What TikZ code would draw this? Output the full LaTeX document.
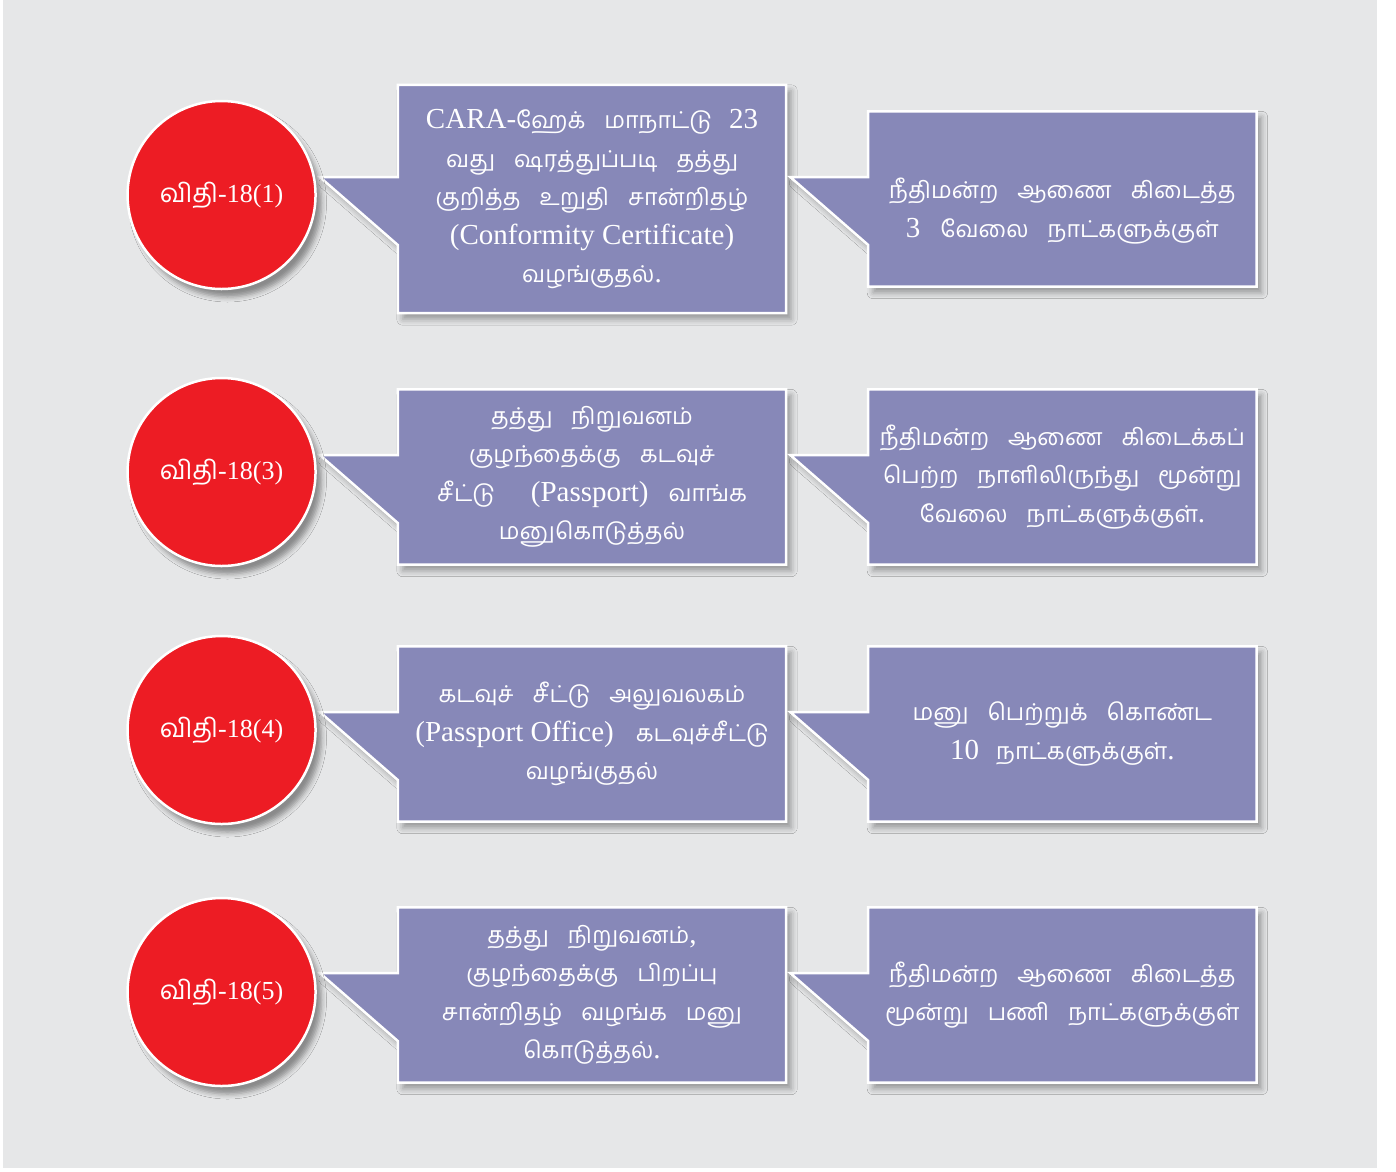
\documentclass[tikz,border=0pt]{standalone}
\usepackage{fontspec}
\setmainfont{Liberation Serif}
\newfontfamily\tamfont[Script=Tamil,Scale=0.8]{Hind Madurai}
\newfontfamily\tamround[Script=Tamil]{Hind Madurai}
\newcommand{\tam}{\tamfont\spaceskip=19pt plus 2pt\relax}
\usetikzlibrary{
    positioning,
    backgrounds,
    calc,
    shadows.blur
}
\definecolor{pagegrey}{HTML}{E6E7E8}
\definecolor{boxblue}{HTML}{8788B8}
\definecolor{rulered}{HTML}{ED1C24}

\begin{document}
\begin{tikzpicture}[
    x=1pt, y=-1pt,
    rulenode/.style = {circle, fill=rulered, draw=white, line width=2.5pt,
                       minimum size=188pt, inner sep=0pt, text=white,
                       font=\fontsize{26}{30}\selectfont,
                       blur shadow={shadow xshift=6pt, shadow yshift=-8pt,
                                    shadow blur radius=5pt, shadow opacity=40}},
    textbox/.style = {rectangle, minimum width=388pt, minimum height=175pt,
                      inner sep=0pt, align=center, text=white,
                      font=\fontsize{29}{38.5}\selectfont},
    calloutshape/.style = {fill=boxblue, draw=white, line width=2.5pt,
                           blur shadow={shadow xshift=5pt, shadow yshift=-6pt,
                                        shadow blur radius=6pt, shadow opacity=35}}
]
    \useasboundingbox (0,0) rectangle (1396,1171);

    % what has to be done
    \node[textbox, minimum height=228pt] (A1) at (592,199)
        {CARA-{\tam ஹேக் மாநாட்டு}\hspace{17pt}23\\ {\tam வது ஷரத்துப்படி தத்து}\\
         {\tam குறித்த உறுதி சான்றிதழ்}\\ (Conformity Certificate)\\ {\tam வழங்குதல்}.};
    \node[textbox] (A2) at (592,477)
        {{\tam தத்து நிறுவனம்}\\ {\tam குழந்தைக்கு கடவுச்}\\
         {\tam சீட்டு}\hspace{36pt}(Passport)\hspace{20pt}{\tam வாங்க}\\ {\tam மனுகொடுத்தல்}};
    \node[textbox] (A3) at (592,734)
        {{\tam கடவுச் சீட்டு அலுவலகம்}\\ (Passport Office)\hspace{22pt}{\tam கடவுச்சீட்டு}\\
         {\tam வழங்குதல்}};
    \node[textbox] (A4) at (592,995)
        {{\tam தத்து நிறுவனம்},\\ {\tam குழந்தைக்கு பிறப்பு}\\
         {\tam சான்றிதழ் வழங்க மனு}\\ {\tam கொடுத்தல்}.};

    % time limits
    \node[textbox] (T1) [right=82pt of A1]
        {\mbox{}\\[6pt]{\tam நீதிமன்ற ஆணை கிடைத்த}\\ 3\hspace{20pt}{\tam வேலை நாட்களுக்குள்}};
    \node[textbox] (T2) [right=82pt of A2]
        {{\tam நீதிமன்ற ஆணை கிடைக்கப்}\\ {\tam பெற்ற நாளிலிருந்து மூன்று}\\
         {\tam வேலை நாட்களுக்குள்}.};
    \node[textbox] (T3) [right=82pt of A3]
        {{\tam மனு பெற்றுக் கொண்ட}\\ 10\hspace{17pt}{\tam நாட்களுக்குள்}.};
    \node[textbox] (T4) [right=82pt of A4]
        {{\tam நீதிமன்ற ஆணை கிடைத்த}\\ {\tam மூன்று பணி நாட்களுக்குள்}};

    % rules
    \node[rulenode] (R1) [left=81pt of A1, yshift=4pt] {{\tamround விதி}-18(1)};
    \node[rulenode] (R2) [left=81pt of A2, yshift=5pt] {{\tamround விதி}-18(3)};
    \node[rulenode] (R3) [left=81pt of A3, yshift=4pt] {{\tamround விதி}-18(4)};
    \node[rulenode] (R4) [left=81pt of A4, yshift=3pt] {{\tamround விதி}-18(5)};

    \begin{scope}[on background layer]
        \fill[white] (0,0) rectangle (1396,1171);
        \fill[pagegrey] (3,0) rectangle (1377,1168);
        \foreach \b in {A1,A2,A3,A4,T1,T2,T3,T4}
            \draw[calloutshape] (\b.north west) -- (\b.north east)
                -- (\b.south east) -- (\b.south west)
                -- ($(\b.west)+(0,46)$) -- ($(\b.west)+(-78,-22)$)
                -- ($(\b.west)+(0,-22)$) -- cycle;
    \end{scope}

\end{tikzpicture}
\end{document}
